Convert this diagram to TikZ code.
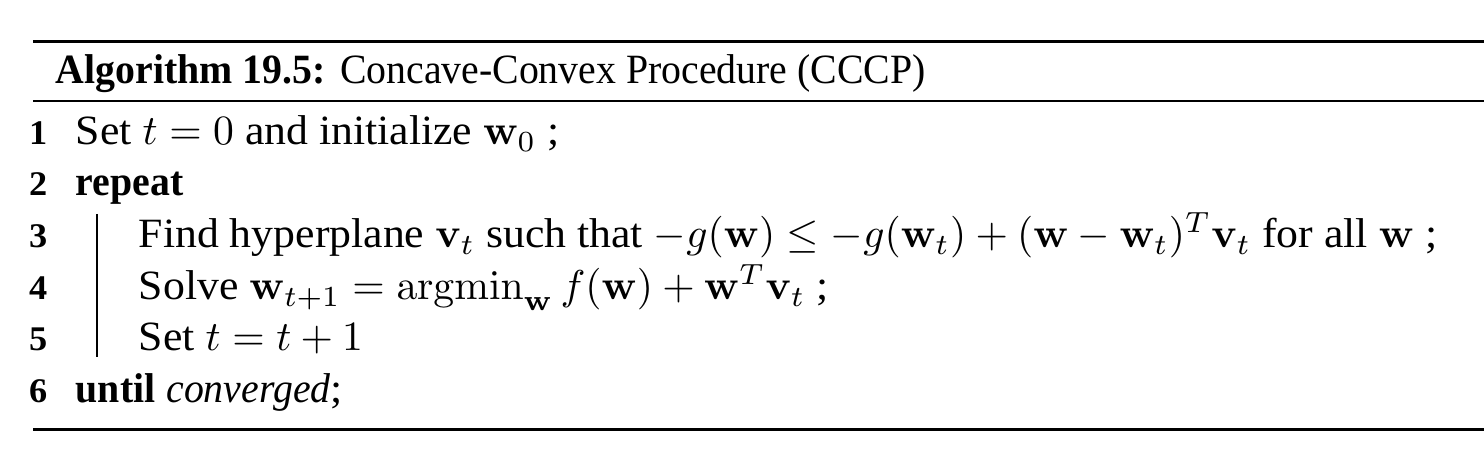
\documentclass[tikz,border=0pt]{standalone}
\usepackage[no-math]{fontspec}
\setmainfont[FakeStretch=1.05]{Liberation Serif}
\newfontfamily\condfont[FakeStretch=0.955]{Liberation Serif}
\DeclareMathSizes{10}{9.8}{6.8}{5}
\usepackage{tikz}
\newcommand{\kw}[1]{{\condfont\bfseries #1}}

\begin{document}
\begin{tikzpicture}[x=0.24pt,y=0.24pt,yscale=-1,xscale=1,
  algline/.style={anchor=base west,inner sep=0pt,font=\fontsize{10}{13}\selectfont},
  lineno/.style={anchor=base east,inner sep=0pt,font=\fontsize{8.3}{10}\selectfont\bfseries}]
\useasboundingbox (0,0) rectangle (1484,470);

%Straight Lines [top rule]
\draw [line width=0.72pt]   (33,42) -- (1484,42) ;
%Straight Lines [caption rule]
\draw [line width=0.48pt]   (33,101) -- (1484,101) ;
%Straight Lines [bottom rule]
\draw [line width=0.72pt]   (33,430) -- (1484,430) ;

% Text Node
\node (cap) [algline] at (55,84) {\kw{Algorithm 19.5:} {\condfont Concave-Convex Procedure (CCCP)}};

% Line numbers
\node (n1) [lineno] at (48,145) {1};
\node (n2) [lineno] at (48,196) {2};
\node (n3) [lineno] at (48,248) {3};
\node (n4) [lineno] at (48,300) {4};
\node (n5) [lineno] at (48,351) {5};
\node (n6) [lineno] at (48,403) {6};

% Text Node
\node (l1) [algline] at (75,145) {Set $t=0$ and initialize $\mathbf{w}_0$ ;};
\node (l2) [algline] at (75,196) {\kw{repeat}};
\node (l3) [algline] at (138,248) {Find hyperplane $\mathbf{v}_t$ such that $-g(\mathbf{w})\leq -g(\mathbf{w}_t)+(\mathbf{w}-\mathbf{w}_t)^T\mathbf{v}_t$ for all $\mathbf{w}$ ;};
\node (l4) [algline] at (138,300) {Solve $\mathbf{w}_{t+1}=\mathop{\mathrm{argmin}}\nolimits_{\mathbf{w}} f(\mathbf{w})+\mathbf{w}^T\mathbf{v}_t$ ;};
\node (l5) [algline] at (138,351) {Set $t=t+1$};
\node (l6) [algline] at (75,403) {\kw{until} {\condfont\itshape converged};};

%Straight Lines [block bar]
\coordinate (bartop) at (97,214);
\coordinate (barbot) at (97,357);
\draw [line width=0.3pt]   (bartop) -- (barbot) ;

\end{tikzpicture}
\end{document}
